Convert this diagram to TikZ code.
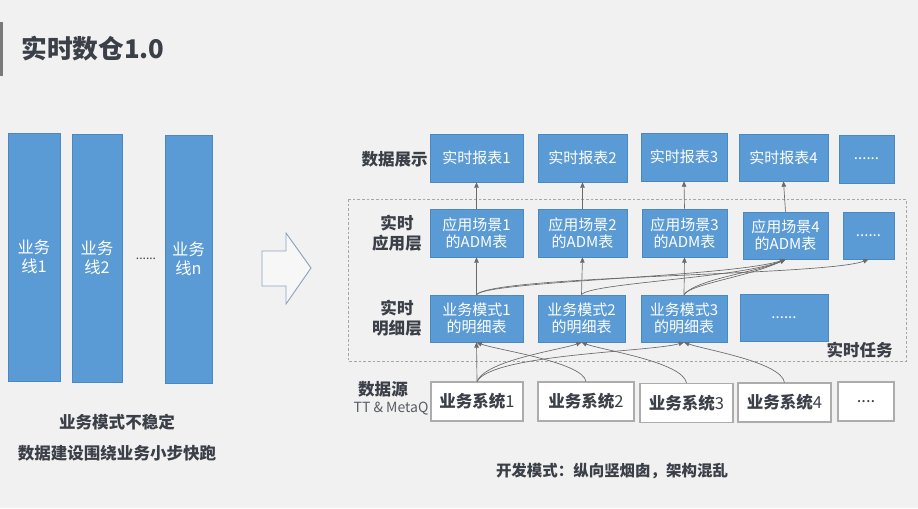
\documentclass[tikz,border=0pt]{standalone}
\usepackage{fontspec}
\newfontfamily\cjk{Noto Sans CJK SC}
\usetikzlibrary{arrows.meta}
\definecolor{bg}{HTML}{F1F1F1}
\definecolor{boxblue}{HTML}{5B9BD5}
\definecolor{boxedge}{HTML}{4A88C4}
\definecolor{txt}{HTML}{3B3F47}
\definecolor{ln}{HTML}{6A6A6A}
\definecolor{bigarrow}{HTML}{8EA3BF}
\definecolor{titlebar}{HTML}{7A7A7A}
\tikzset{
  sz/.style 2 args={minimum width=#1*0.75pt, minimum height=#2*0.75pt},
  bluebox/.style={fill=boxblue, draw=boxedge, line width=0.5pt, text=white, align=center, inner sep=0pt, font=\cjk\fontsize{11.25}{13}\selectfont},
  barbox/.style={fill=boxblue, draw=boxedge, line width=0.5pt, text=white, align=center, inner sep=0pt, font=\cjk\fontsize{12.2}{14.2}\selectfont},
  srcbox/.style={fill=white, draw=gray!65, line width=0.8pt, text=txt, align=center, inner sep=0pt, font=\cjk\fontsize{12.4}{15}\selectfont},
  lbl/.style={text=txt, align=center, inner sep=0pt, font=\cjk\bfseries\fontsize{12.4}{15}\selectfont},
  conn/.style={draw=ln, line width=0.5pt, -{Triangle[length=4pt,width=3.4pt]}}
}
\begin{document}
\begin{tikzpicture}[x=0.75pt,y=-0.75pt]
\useasboundingbox (0,0) rectangle (918,508);
\fill[bg] (0,0) rectangle (918,508);

% title
\fill[titlebar] (0,22) rectangle (3,76);
\node[anchor=west, text=txt, inner sep=0pt, font=\cjk\bfseries\fontsize{19.3}{22}\selectfont] (title) at (21,49) {实时数仓1.0};

% left bars
\node[barbox, sz={52}{248}] (bar1) at (34,257) {业务\\线1};
\node[barbox, sz={50}{248}] (bar2) at (97,258) {业务\\线2};
\node[text=txt, inner sep=0pt, font=\cjk\fontsize{9}{10}\selectfont] (bdots) at (146,259) {......};
\node[barbox, sz={47}{248}] (bar3) at (188.5,259) {业务\\线n};
\node[lbl] (lt1) at (117,422) {业务模式不稳定};
\node[lbl] (lt2) at (117,453) {数据建设围绕业务小步快跑};

% big arrow
\draw[bigarrow, line width=0.7pt, fill=bg!60!white] (262,251) -- (286,251) -- (286,233) -- (311,268) -- (286,304) -- (286,286) -- (262,286) -- cycle;

% dashed area
\draw[gray!70, line width=0.7pt, dash pattern=on 2pt off 1.5pt] (348,199) rectangle (906,361);

% layer labels
\node[lbl, anchor=east] (lab1) at (428,159) {数据展示};
\node[lbl] (lab2) at (397,233) {实时\\应用层};
\node[lbl] (lab3) at (397,318) {实时\\明细层};
\node[lbl] (lab4) at (383,389) {数据源};
\node[text=txt!85, inner sep=0pt, font=\cjk\fontsize{10.5}{12}\selectfont] (lab5) at (391,409) {TT \& MetaQ};
\node[lbl, anchor=east] (task) at (893,350) {实时任务};

% layer 1
\node[bluebox, sz={93}{48}] (R1) at (476.5,158) {实时报表1};
\node[bluebox, sz={89}{48}] (R2) at (582.5,158) {实时报表2};
\node[bluebox, sz={86}{48}] (R3) at (684,157) {实时报表3};
\node[bluebox, sz={89}{47}] (R4) at (783.5,157.5) {实时报表4};
\node[bluebox, sz={55}{48}] (R5) at (866.5,159) {......};

% layer 2
\node[bluebox, sz={93}{48}] (A1) at (476.5,233) {应用场景1\\的ADM表};
\node[bluebox, sz={89}{48}] (A2) at (582.5,233) {应用场景2\\的ADM表};
\node[bluebox, sz={85}{48}] (A3) at (684.5,233) {应用场景3\\的ADM表};
\node[bluebox, sz={85}{47}] (A4) at (785.5,235.5) {应用场景4\\的ADM表};
\node[bluebox, sz={51}{47}] (A5) at (868.5,235.5) {......};

% layer 3
\node[bluebox, sz={93}{47}] (M1) at (476.5,318.5) {业务模式1\\的明细表};
\node[bluebox, sz={87}{47}] (M2) at (581.5,318.5) {业务模式2\\的明细表};
\node[bluebox, sz={86}{47}] (M3) at (684,318.5) {业务模式3\\的明细表};
\node[bluebox, sz={88}{47}] (M4) at (784,317.5) {......};

% layer 4
\node[srcbox, sz={92}{39}] (S1) at (477,401.5) {\textbf{业务系统}1};
\node[srcbox, sz={96}{39}] (S2) at (586,401.5) {\textbf{业务系统}2};
\node[srcbox, sz={93}{39}] (S3) at (686.5,403) {\textbf{业务系统}3};
\node[srcbox, sz={93}{39}] (S4) at (784.5,402.5) {\textbf{业务系统}4};
\node[srcbox, sz={56}{39}] (S5) at (866,401.5) {....};

% bottom text
\node[lbl, font=\cjk\bfseries\fontsize{11.6}{14}\selectfont] (bt) at (612,471) {开发模式：纵向竖烟囱，架构混乱};

% connectors layer2 -> layer1
\draw[conn] (A1.north) -- (R1.south);
\draw[conn] (A2.north) -- (R2.south);
\draw[conn] (A3.north) -- (R3.south);
\draw[conn] (A4.north) -- (R4.south);

% layer3 -> layer2
\draw[conn] (M1.north) -- (A1.south);
\draw[conn] (M2.north) -- (A2.south);
\draw[conn] (M3.north) -- (A3.south);
\draw[conn] (M1.north) .. controls (487,281) and (730,277) .. (A4.south);
\draw[conn] (M2.north) .. controls (590,283) and (740,278) .. (A4.south);
\draw[conn] (M3.north) .. controls (690,284) and (748,277) .. (A4.south);
\draw[conn] (M3.north) .. controls (696,279) and (758,272) .. (A4.south);
\draw[conn] (M1.north) .. controls (495,275) and (825,276) .. (A5.south);

% layer4 -> layer3
\draw[conn] (S1.north) -- (M1.south);
\draw[conn] (S1.north) .. controls (486,360) and (560,350) .. (M2.south);
\draw[conn] (S1.north) .. controls (492,354) and (650,352) .. (M3.south);
\draw[conn] (S2.north) .. controls (583,362) and (497,350) .. (M1.south);
\draw[conn] (S3.north) .. controls (683,362) and (602,350) .. (M2.south);
\draw[conn] (S4.north) .. controls (781,362) and (706,350) .. (M3.south);
\end{tikzpicture}
\end{document}
